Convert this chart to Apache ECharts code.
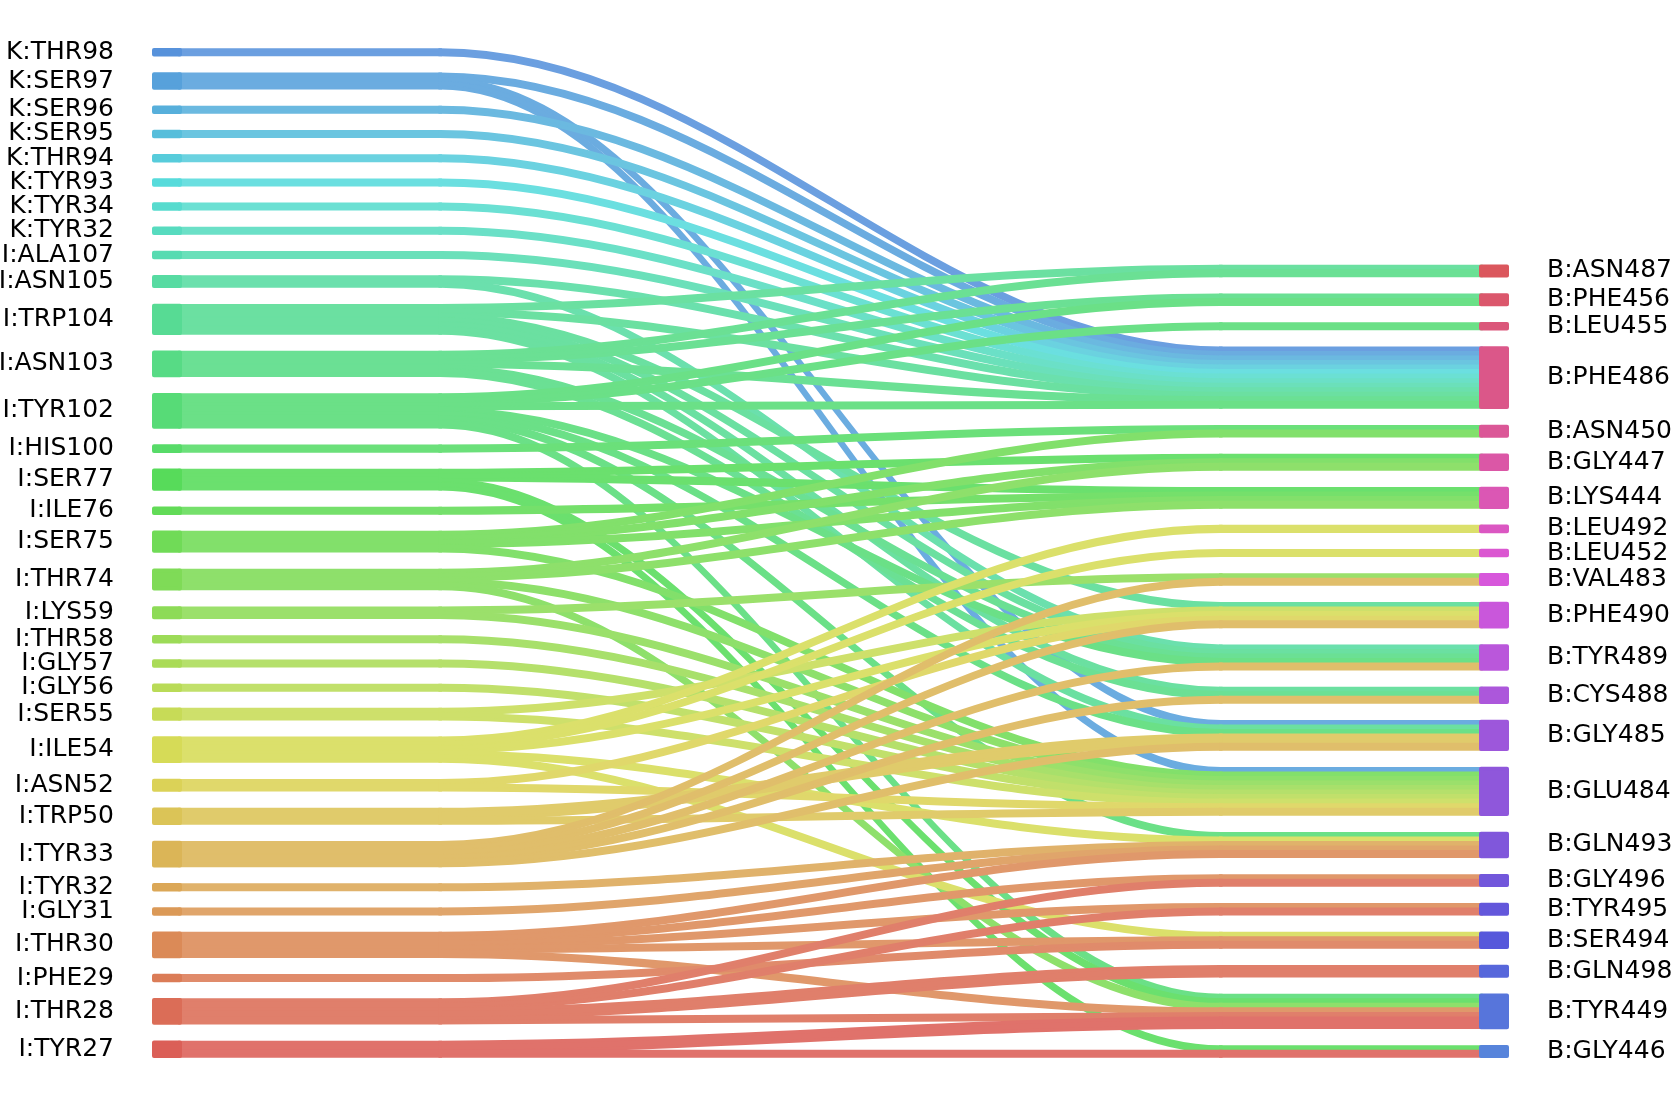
<!DOCTYPE html>
<html><head><meta charset="utf-8">
<script src="https://cdn.jsdelivr.net/npm/echarts@6/dist/echarts.min.js"></script>
<style>html,body{margin:0;padding:0;background:#fff}#c{width:1671px;height:1108px}</style>
</head><body><div id="c"></div>
<script>
// ---- data ----
const leftNodes = ['K:THR98','K:SER97','K:SER96','K:SER95','K:THR94','K:TYR93','K:TYR34','K:TYR32',
  'I:ALA107','I:ASN105','I:TRP104','I:ASN103','I:TYR102','I:HIS100','I:SER77','I:ILE76','I:SER75',
  'I:THR74','I:LYS59','I:THR58','I:GLY57','I:GLY56','I:SER55','I:ILE54','I:ASN52','I:TRP50',
  'I:TYR33','I:TYR32','I:GLY31','I:THR30','I:PHE29','I:THR28','I:TYR27'];
const rightNodes = ['B:ASN487','B:PHE456','B:LEU455','B:PHE486','B:ASN450','B:GLY447','B:LYS444',
  'B:LEU492','B:LEU452','B:VAL483','B:PHE490','B:TYR489','B:CYS488','B:GLY485','B:GLU484',
  'B:GLN493','B:GLY496','B:TYR495','B:SER494','B:GLN498','B:TYR449','B:GLY446'];
const linkSource = [
  'K:THR98','K:SER97','K:SER97','K:SER97','K:SER96','K:SER95','K:THR94','K:TYR93','K:TYR34','K:TYR32',
  'I:ALA107','I:ASN105','I:ASN105',
  'I:TRP104','I:TRP104','I:TRP104','I:TRP104','I:TRP104','I:TRP104',
  'I:ASN103','I:ASN103','I:ASN103','I:ASN103','I:ASN103',
  'I:TYR102','I:TYR102','I:TYR102','I:TYR102','I:TYR102','I:TYR102','I:TYR102',
  'I:HIS100',
  'I:SER77','I:SER77','I:SER77','I:SER77',
  'I:ILE76',
  'I:SER75','I:SER75','I:SER75','I:SER75',
  'I:THR74','I:THR74','I:THR74','I:THR74',
  'I:LYS59','I:LYS59','I:THR58','I:GLY57','I:GLY56','I:SER55','I:SER55',
  'I:ILE54','I:ILE54','I:ILE54','I:ILE54','I:ILE54',
  'I:ASN52','I:ASN52','I:TRP50','I:TRP50',
  'I:TYR33','I:TYR33','I:TYR33','I:TYR33','I:TYR33',
  'I:TYR32','I:GLY31',
  'I:THR30','I:THR30','I:THR30','I:THR30','I:THR30',
  'I:PHE29',
  'I:THR28','I:THR28','I:THR28','I:THR28',
  'I:TYR27','I:TYR27'];
const linkTarget = [
  'B:PHE486','B:PHE486','B:GLY485','B:GLU484','B:PHE486','B:PHE486','B:PHE486','B:PHE486','B:PHE486','B:PHE486',
  'B:PHE486','B:PHE486','B:TYR489',
  'B:ASN487','B:PHE486','B:PHE490','B:TYR489','B:CYS488','B:GLY485',
  'B:ASN487','B:PHE456','B:PHE486','B:TYR489','B:CYS488',
  'B:PHE456','B:LEU455','B:PHE486','B:TYR489','B:GLY485','B:GLN493','B:TYR449',
  'B:ASN450',
  'B:GLY447','B:LYS444','B:TYR449','B:GLY446',
  'B:LYS444',
  'B:ASN450','B:GLY447','B:LYS444','B:GLU484',
  'B:GLY447','B:LYS444','B:GLU484','B:TYR449',
  'B:VAL483','B:GLU484','B:GLU484','B:GLU484','B:GLU484','B:PHE490','B:GLU484',
  'B:LEU492','B:LEU452','B:PHE490','B:GLN493','B:SER494',
  'B:PHE490','B:GLU484','B:GLY485','B:GLU484',
  'B:VAL483','B:PHE490','B:TYR489','B:CYS488','B:GLY485',
  'B:GLN493','B:GLN493',
  'B:GLN493','B:GLY496','B:TYR495','B:SER494','B:TYR449',
  'B:SER494',
  'B:GLY496','B:TYR495','B:GLN498','B:TYR449',
  'B:TYR449','B:GLY446'];
const linkValue = [
  1,1,1,1,1,1,1,1,1,1,
  1,1,1,
  1,1,1,1,1,1,
  1,1,1,1,1,
  1,1,1,1,1,1,1,
  1,
  1,1,1,1,
  1,
  1,1,1,1,
  1,1,1,1,
  1,1,1,1,1,1,1,
  1,1,1,1,1,
  1,1,2,1,
  1,1,1,1,1,
  1,1,
  1,1,1,1,1,
  1,
  1,1,2,1,
  2,1];

// ---- styling helpers ----
function hlsRgb(h, l, s) {
  const m2 = l <= 0.5 ? l * (1 + s) : l + s - l * s;
  const m1 = 2 * l - m2;
  function v(hue) {
    hue = ((hue % 1) + 1) % 1;
    if (hue < 1 / 6) return m1 + (m2 - m1) * hue * 6;
    if (hue < 0.5) return m2;
    if (hue < 2 / 3) return m1 + (m2 - m1) * (2 / 3 - hue) * 6;
    return m1;
  }
  return [v(h + 1 / 3), v(h), v(h - 1 / 3)];
}
function toHex(rgb) {
  return '#' + rgb.map(c => Math.round(Math.min(1, Math.max(0, c)) * 255).toString(16).padStart(2, '0')).join('');
}
const colorOrder = leftNodes.slice().reverse().concat(rightNodes.slice().reverse());
const nTot = colorOrder.length;
function baseRgb(name) {
  const i = colorOrder.indexOf(name);
  return hlsRgb((i / nTot + 0.01) % 1, 0.6, 0.65);
}
function nodeColor(name) { return toHex(baseRgb(name)); }
function tint(name, a) { // source colour seen through opacity a on white
  return toHex(baseRgb(name).map(c => a * c + (1 - a)));
}

// ---- layout helpers (gap between nodes expressed in value units; columns are stacked with nodeGap 0) ----
const unitGap = 4.34;
const topPad = 11 * unitGap; // right column is bottom-aligned with the left one
const idx = linkSource.map((_, k) => k);
const leftTotals = leftNodes.map(s => idx.filter(k => linkSource[k] === s).reduce((a, k) => a + linkValue[k], 0));
const rightTotals = rightNodes.map(t => idx.filter(k => linkTarget[k] === t).reduce((a, k) => a + linkValue[k], 0));
const bySource = leftNodes.map(s => idx.filter(k => linkSource[k] === s)
  .sort((a, b) => rightNodes.indexOf(linkTarget[a]) - rightNodes.indexOf(linkTarget[b])));
const byTarget = rightNodes.map(t => idx.filter(k => linkTarget[k] === t)
  .sort((a, b) => leftNodes.indexOf(linkSource[a]) - leftNodes.indexOf(linkSource[b])));

function hiddenNode(name, depth, value) {
  const n = {name: name, depth: depth,
    itemStyle: {color: 'rgba(0,0,0,0)', borderWidth: 0, opacity: 0}, label: {show: false}};
  if (value != null) n.value = value;
  return n;
}

// series 1: strands. Each strand = flat lead-in, S-curve, flat lead-out
const sNodes = [];
leftNodes.forEach((s, i) => { if (i) sNodes.push(hiddenNode('gL' + i, 0, unitGap)); sNodes.push(hiddenNode('L|' + s, 0)); });
bySource.forEach((ks, i) => { if (i) sNodes.push(hiddenNode('g1_' + i, 1, unitGap)); ks.forEach(k => sNodes.push(hiddenNode('M1|' + k, 1))); });
sNodes.push(hiddenNode('pad4', 4, topPad));
byTarget.forEach((ks, j) => { if (j) sNodes.push(hiddenNode('g4_' + j, 4, unitGap)); ks.forEach(k => sNodes.push(hiddenNode('M2|' + k, 4))); });
sNodes.push(hiddenNode('pad5', 5, topPad));
rightNodes.forEach((t, j) => { if (j) sNodes.push(hiddenNode('gR' + j, 5, unitGap)); sNodes.push(hiddenNode('R|' + t, 5)); });
const sLinks = [];
linkSource.forEach((s, k) => {
  const c = tint(s, 0.88);
  const st = {color: c, borderColor: c, borderWidth: 3.5};
  sLinks.push({source: 'L|' + s, target: 'M1|' + k, value: linkValue[k], lineStyle: st});
  sLinks.push({source: 'M1|' + k, target: 'M2|' + k, value: linkValue[k], lineStyle: st});
  sLinks.push({source: 'M2|' + k, target: 'R|' + linkTarget[k], value: linkValue[k], lineStyle: st});
});

// series 2: visible residue nodes with labels
const vNodes = [];
leftNodes.forEach((s, i) => {
  if (i) vNodes.push(hiddenNode('vgL' + i, 0, unitGap));
  const c = nodeColor(s);
  vNodes.push({name: s, depth: 0, value: leftTotals[i],
    itemStyle: {color: c, borderColor: c, borderWidth: 4, borderJoin: 'round'},
    label: {position: 'left', distance: 38}});
});
vNodes.push(hiddenNode('vpad', 1, topPad));
rightNodes.forEach((t, j) => {
  if (j) vNodes.push(hiddenNode('vgR' + j, 1, unitGap));
  const c = nodeColor(t);
  vNodes.push({name: t, depth: 1, value: rightTotals[j],
    itemStyle: {color: c, borderColor: c, borderWidth: 4, borderJoin: 'round'},
    label: {position: 'right', distance: 38}});
});

const common = {
  type: 'sankey', top: 50, height: 1006, nodeGap: 0, layoutIterations: 0,
  draggable: false, silent: true, emphasis: {disabled: true}
};
const chart = echarts.init(document.getElementById('c'), null, {renderer: 'canvas'});
chart.setOption({
  animation: false,
  backgroundColor: '#ffffff',
  series: [
    Object.assign({}, common, {
      left: 180, width: 1301, nodeWidth: 0,
      lineStyle: {curveness: 0.36, opacity: 1},
      label: {show: false},
      data: sNodes, links: sLinks
    }),
    Object.assign({}, common, {
      left: 154, width: 1353, nodeWidth: 26,
      label: {fontFamily: 'DejaVu Sans', fontSize: 25, color: '#000'},
      data: vNodes, links: []
    })
  ]
});
</script>
</body></html>
